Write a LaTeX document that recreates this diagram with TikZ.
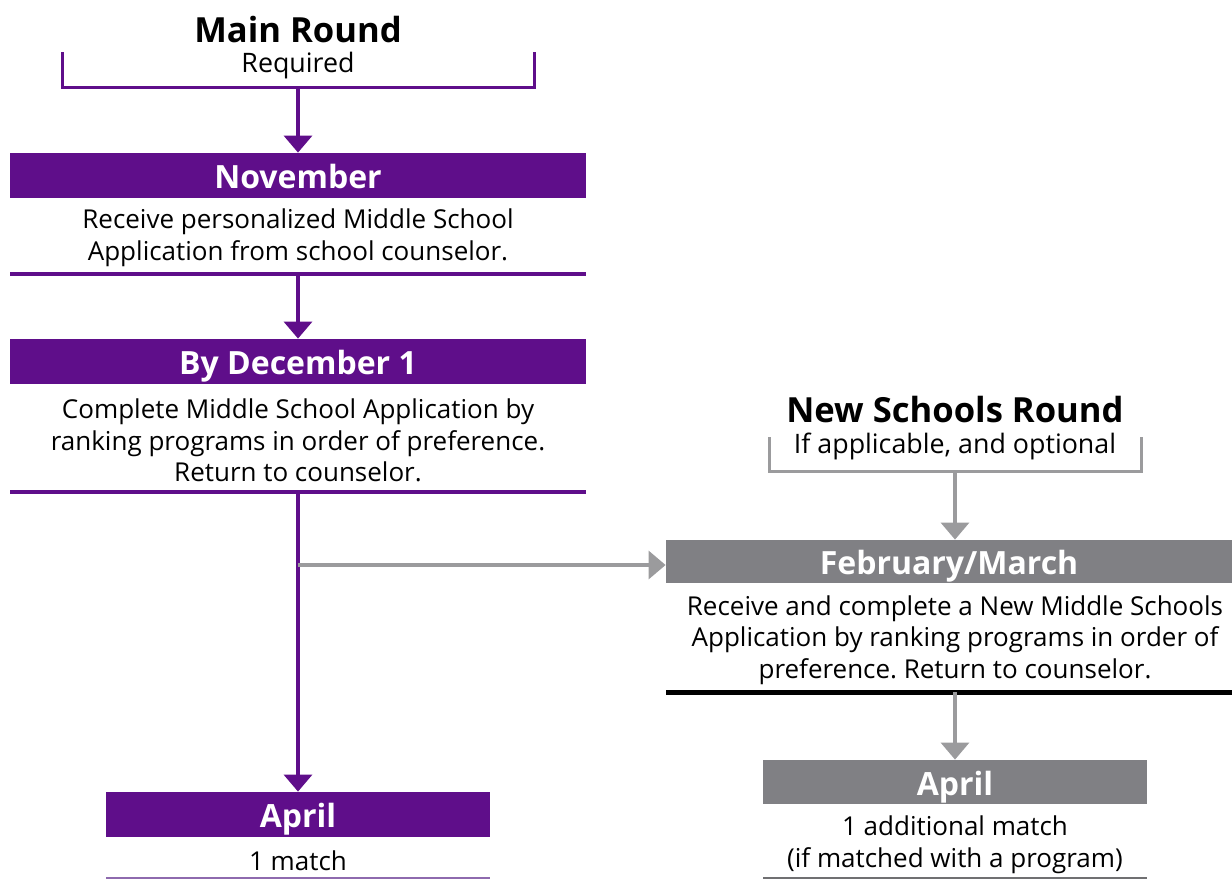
\documentclass[tikz,border=0pt]{standalone}
\usepackage{fontspec}
\setmainfont{Open Sans}
\usetikzlibrary{arrows.meta}
\definecolor{mspurple}{HTML}{5F0E8A}
\definecolor{mslightpurple}{HTML}{8E6AAE}
\definecolor{msgraybar}{HTML}{808084}
\definecolor{msgrayline}{HTML}{9B9B9D}
\definecolor{msgrayrule}{HTML}{707072}
\frenchspacing
\begin{document}
\begin{tikzpicture}[x=0.5pt,y=-0.5pt,
  roundtitle/.style={font=\fontsize{17.3}{21}\selectfont\bfseries, inner sep=0pt},
  roundsub/.style={font=\fontsize{13.4}{16}\selectfont, inner sep=0pt},
  bar/.style={fill=#1, text=white, font=\fontsize{16}{19}\selectfont\bfseries,
    inner sep=0pt, text height=14.4pt, text depth=1pt},
  bodytext/.style={font=\fontsize{13}{15.8}\selectfont, align=center, inner sep=0pt},
  parrow/.style={draw=mspurple, line width=1.75pt, -{Triangle[width=14pt,length=8.5pt]}},
  garrow/.style={draw=msgrayline, line width=1.6pt, -{Triangle[width=14pt,length=8.5pt]}},
  pbracket/.style={draw=mspurple, line width=1.5pt},
  gbracket/.style={draw=msgrayline, line width=1.5pt},
]
\useasboundingbox (0,0) rectangle (1232,880);

% ---------- Main round ----------
\node[roundtitle] (mtitle) at (298,30) {Main Round};
\node[roundsub] (mreq) at (298,66) {Required};
\draw[pbracket] (62,52) -- (62,87) -- (534,87) -- (534,52);
\coordinate (mbrk) at (298,87);

\node[bar=mspurple, minimum width=288pt, minimum height=22.5pt] (nov) at (298,175.5) {November};
\node[bodytext] (novtext) at (298,238) {Receive personalized Middle School\\Application from school counselor.};
\coordinate (r1a) at (10,274);
\coordinate (r1b) at (586,274);
\coordinate (r1m) at (298,274);
\draw[mspurple, line width=2pt] (r1a) -- (r1b);

\node[bar=mspurple, minimum width=288pt, minimum height=22.5pt] (dec) at (298,361.5) {By December 1};
\node[bodytext] (dectext) at (298,440.5) {Complete Middle School Application by\\ranking programs in order of preference.\\Return to counselor.};
\coordinate (r2a) at (10,492);
\coordinate (r2b) at (586,492);
\coordinate (r2m) at (298,492);
\draw[mspurple, line width=2pt] (r2a) -- (r2b);

\node[bar=mspurple, minimum width=192pt, minimum height=22.5pt] (apr) at (298,814.5) {April};
\node[bodytext] (aprtext) at (298,861) {1 match};
\coordinate (r3a) at (106,878);
\coordinate (r3b) at (490,878);
\draw[mslightpurple, line width=1pt] (r3a) -- (r3b);

\draw[parrow] (mbrk) -- (nov.north);
\draw[parrow] (r1m) -- (dec.north);
\draw[parrow] (r2m) -- (apr.north);

% ---------- New schools round ----------
\node[roundtitle] (ntitle) at (955,410) {New Schools Round};
\node[roundsub] (nsub) at (955,446) {If applicable, and optional};
\draw[gbracket] (769,437) -- (769,471) -- (1141,471) -- (1141,437);
\coordinate (nbrk) at (955,471);

\node[bar=msgraybar, minimum width=283pt, minimum height=21.5pt] (feb) at (949,561.5) {February/March};
\node[bodytext] (febtext) at (955,640) {Receive and complete a New Middle Schools\\Application by ranking programs in order of\\preference. Return to counselor.};
\coordinate (r4a) at (666,692);
\coordinate (r4b) at (1232,692);
\coordinate (r4m) at (955,692);
\draw[black, line width=2.5pt] (r4a) -- (r4b);

\node[bar=msgraybar, minimum width=192pt, minimum height=22pt] (apr2) at (955,782) {April};
\node[bodytext] (apr2text) at (955,845) {1 additional match\\(if matched with a program)};
\coordinate (r5a) at (763,878);
\coordinate (r5b) at (1147,878);
\draw[msgrayrule, line width=1pt] (r5a) -- (r5b);

\draw[garrow] (nbrk) -- (nbrk |- feb.north);
\draw[garrow] (r4m) -- (apr2.north);

% ---------- branch ----------
\coordinate (branch) at (298,565);
\draw[garrow] (branch) -- (feb.west |- branch);
\end{tikzpicture}
\end{document}
